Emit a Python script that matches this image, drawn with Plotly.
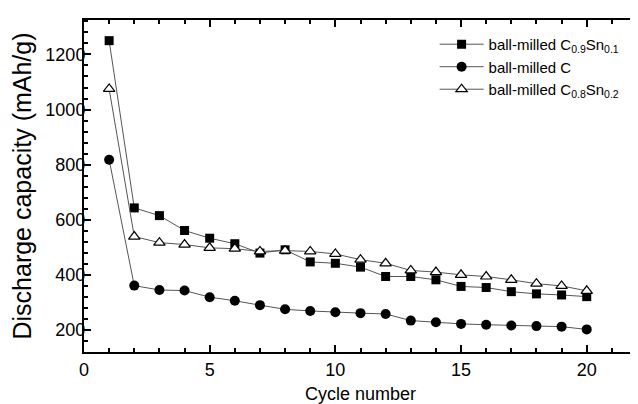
import plotly.graph_objects as go

cycles = list(range(1, 21))
c09sn01 = [1250, 643, 615, 561, 533, 513, 479, 491, 447, 442, 428, 394, 394, 382, 358, 354, 339, 331, 327, 321]
c_only = [818, 361, 345, 343, 319, 306, 290, 275, 269, 264, 261, 258, 234, 228, 222, 219, 216, 214, 212, 202]
c08sn02 = [1075, 539, 517, 510, 498, 495, 485, 488, 485, 476, 455, 442, 416, 410, 400, 394, 382, 368, 360, 342]

names = ["ball-milled C<sub>0.9</sub>Sn<sub>0.1</sub>",
         "ball-milled C",
         "ball-milled C<sub>0.8</sub>Sn<sub>0.2</sub>"]

font = "Liberation Sans, Arial, Helvetica, sans-serif"
line_style = dict(color="#555555", width=1)

fig = go.Figure()
fig.add_trace(go.Scatter(x=cycles, y=c09sn01, name=names[0], mode="lines+markers",
                         line=line_style,
                         marker=dict(symbol="square", size=9, color="black")))
fig.add_trace(go.Scatter(x=cycles, y=c_only, name=names[1], mode="lines+markers",
                         line=line_style,
                         marker=dict(symbol="circle", size=10, color="black")))
fig.add_trace(go.Scatter(x=cycles, y=c08sn02, name=names[2], mode="lines+markers",
                         line=line_style,
                         marker=dict(symbol="triangle-up", size=10, color="white",
                                     line=dict(color="black", width=1.2))))

axis_common = dict(showline=True, linecolor="black", linewidth=2, mirror="ticks",
                   ticks="inside", tickcolor="black", tickwidth=2, ticklen=7,
                   showgrid=False, zeroline=False, automargin=False,
                   tickfont=dict(family=font, size=18, color="black"))

fig.update_xaxes(range=[0, 22], tick0=0, dtick=5,
                 minor=dict(dtick=1, ticks="inside", ticklen=4, tickwidth=1.5, tickcolor="black"),
                 title=dict(text="Cycle number", font=dict(family=font, size=18, color="black"), standoff=12),
                 **axis_common)
fig.update_yaxes(range=[120, 1325], tick0=0, dtick=200, ticklabelstandoff=-7,
                 minor=dict(dtick=40, ticks="inside", ticklen=4, tickwidth=1.5, tickcolor="black"),
                 title=dict(text="Discharge capacity (mAh/g)", font=dict(family=font, size=25, color="black"), standoff=12),
                 **axis_common)

fig.update_layout(width=630, height=396,
                  margin=dict(l=76, r=1, t=12, b=52),
                  plot_bgcolor="white", paper_bgcolor="white",
                  font=dict(family=font, color="black"),
                  legend=dict(x=0.634, y=0.976, xanchor="left", yanchor="top",
                              bgcolor="rgba(0,0,0,0)", borderwidth=0,
                              font=dict(family=font, size=15, color="black"),
                              itemwidth=44, tracegroupgap=0))

fig.write_html("out.html")
